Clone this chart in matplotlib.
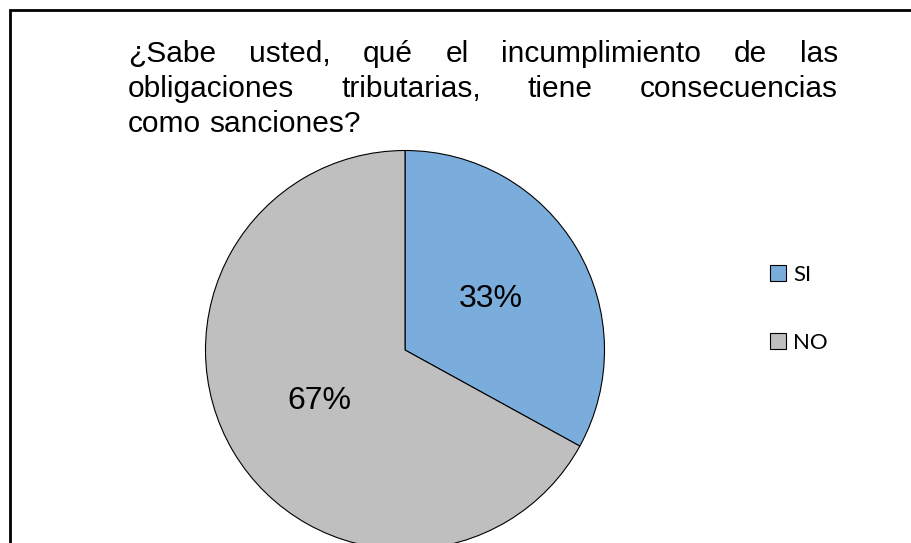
import matplotlib
matplotlib.use("Agg")
from matplotlib import pyplot as plt
from matplotlib.patches import Rectangle

# data
labels = ["SI", "NO"]
values = [33, 67]
colors = ["#7BADDC", "#BFBFBF"]
title_lines = [
    "¿Sabe usted, qué el incumplimiento de las",
    "obligaciones tributarias, tiene consecuencias",
    "como sanciones?",
]

W, H = 912, 543
fig = plt.figure(figsize=(W / 100, H / 100), dpi=100)


def fx(px):
    return px / W


def fy(py):
    return 1 - py / H


# outer frame (only top and left edges visible)
fig.patches.append(Rectangle((fx(10), -0.2), 2, fy(10) + 0.2, transform=fig.transFigure,
                             fill=False, edgecolor="black", linewidth=2))

# pie
cx, cy, r = 405, 350, 199.5
ax = fig.add_axes([fx(cx - r), fy(cy + r), (2 * r) / W, (2 * r) / H])
wedges, _, autotexts = ax.pie(values, colors=colors, startangle=90, counterclock=False,
                              autopct="%1.0f%%", pctdistance=0.5, radius=1,
                              wedgeprops=dict(edgecolor="black", linewidth=0.8),
                              textprops=dict(fontsize=23, family="Liberation Sans"))
ax.set_xlim(-1, 1)
ax.set_ylim(-1, 1)
ax.axis("off")

fig.legend(wedges, labels, loc="center left", bbox_to_anchor=(fx(770), fy(309)),
           frameon=False, borderpad=0, borderaxespad=0, handlelength=0.72, handleheight=0.72,
           handletextpad=0.32, labelspacing=2.15,
           prop=dict(family=["Lato", "DejaVu Sans"], size=16))

# justified title
left, right = 128, 838
baselines = [62, 97, 132]
fs = 21.5
renderer = fig.canvas.get_renderer()
for i, line in enumerate(title_lines):
    words = line.split()
    texts = [fig.text(0, fy(baselines[i]), w, fontsize=fs, family="Liberation Sans",
                      va="baseline", ha="left") for w in words]
    widths = [t.get_window_extent(renderer).width for t in texts]
    if i < len(title_lines) - 1:
        gap = (right - left - sum(widths)) / (len(words) - 1)
    else:
        gap = fs * 100 / 72 * 0.278
    x = left
    for t, w in zip(texts, widths):
        t.set_x(fx(x))
        x += w + gap

fig.savefig("out.png", dpi=100)
